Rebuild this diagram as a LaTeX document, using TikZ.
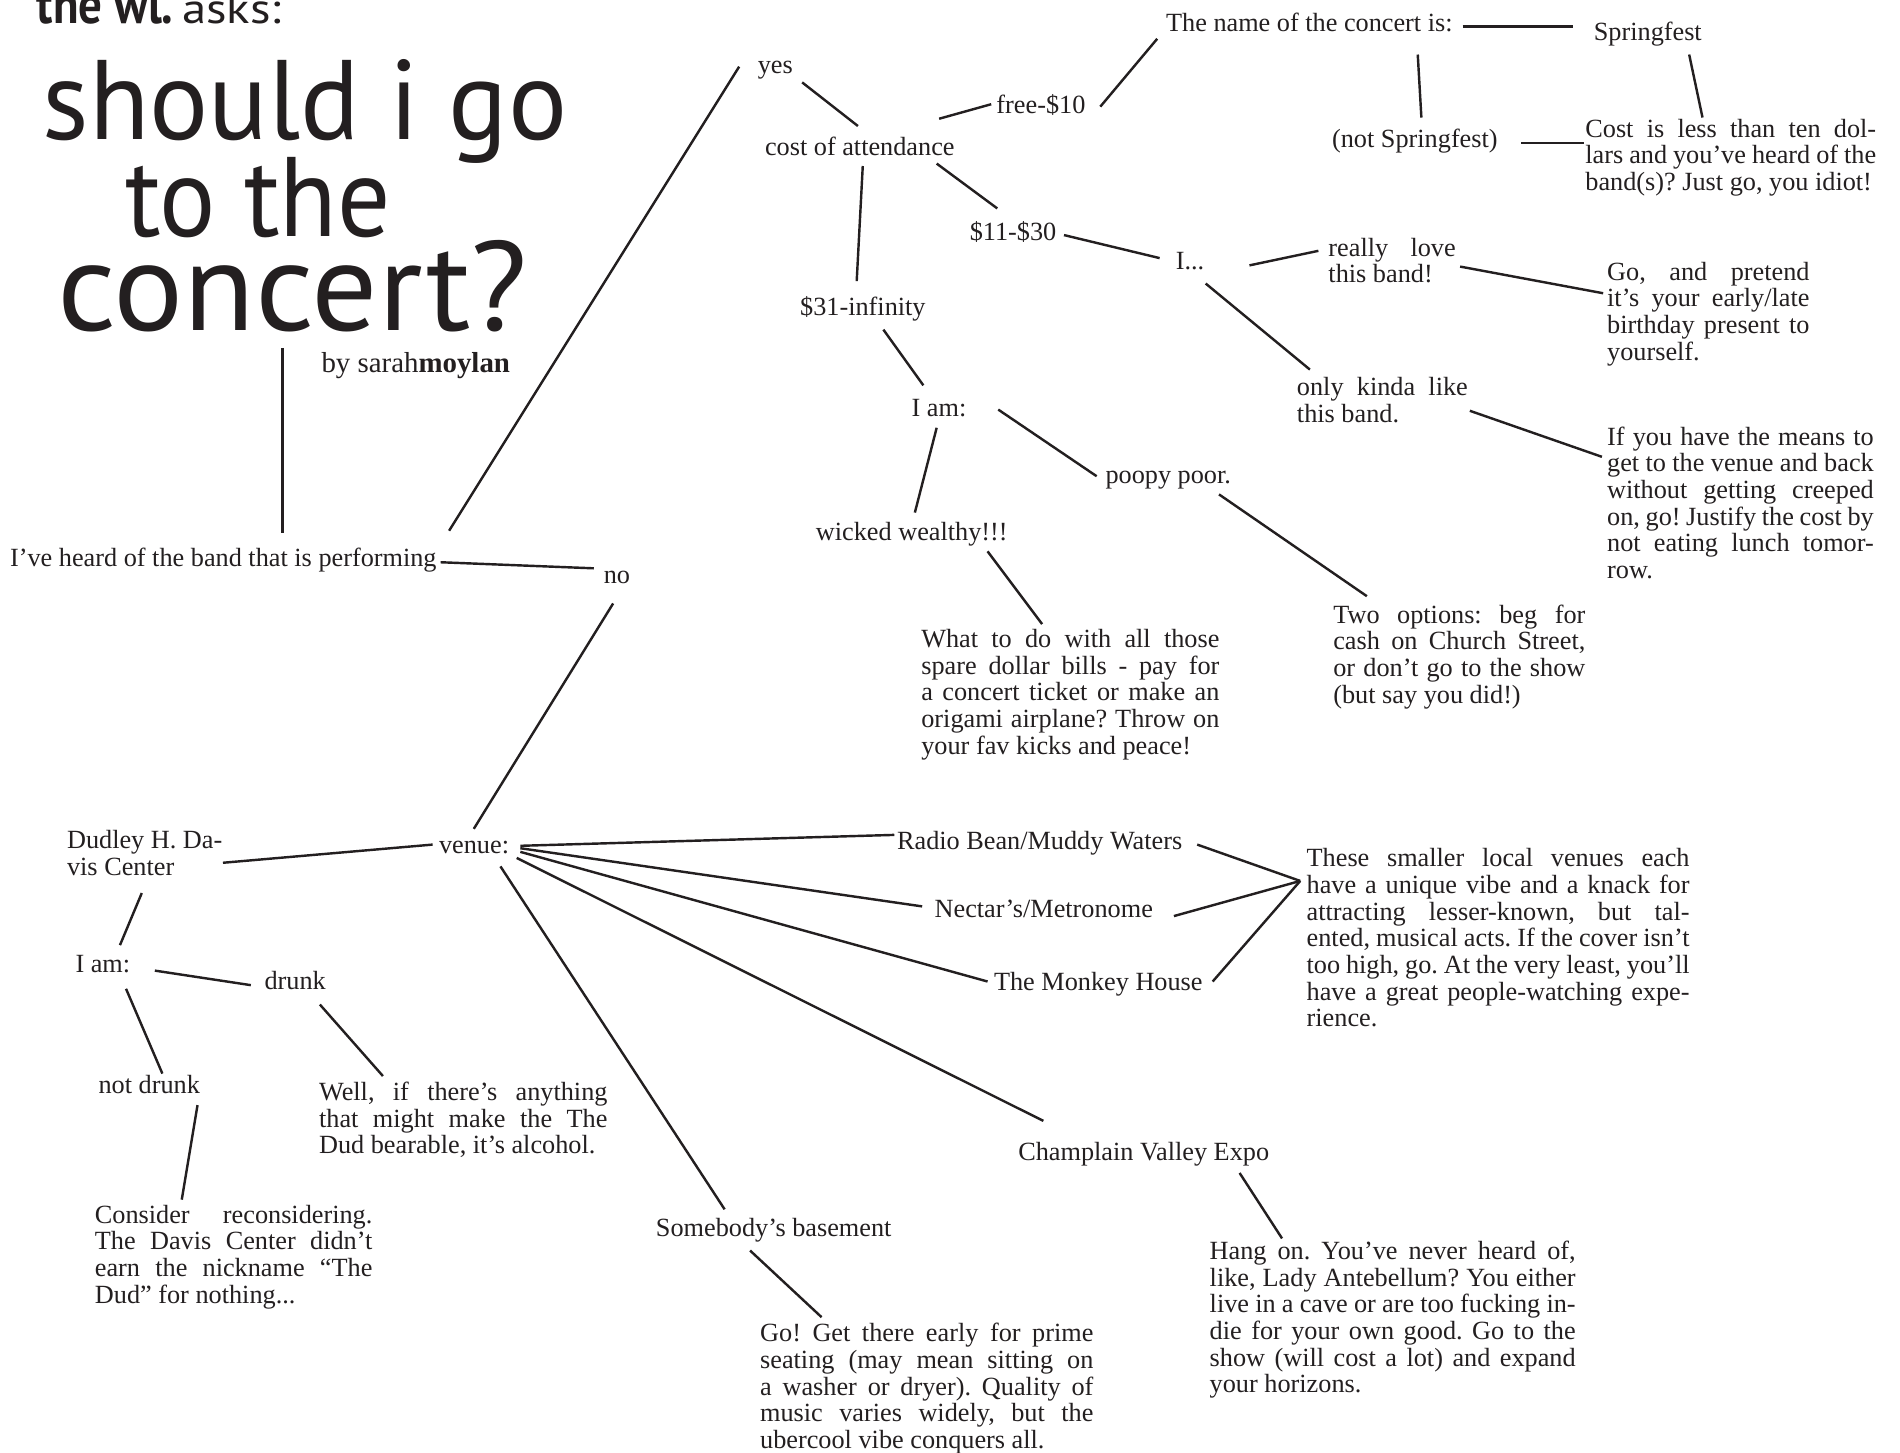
\documentclass[tikz,border=0pt]{standalone}
\usepackage{fontspec}
\setmainfont{Liberation Serif}
\newfontfamily\ttlfont{PT Sans}
\newdimen\myu \myu=0.6pt
\newbox\lblbox
\newcommand\jst[2]{\makebox[#1\myu][s]{#2}}
\newcommand\blk[1]{\begin{tabular}[t]{@{}l@{}}#1\end{tabular}}
\definecolor{ink}{RGB}{35,31,32}
\tikzset{
  lbl/.style={inner sep=0pt, anchor=mid west, text=ink, font=\fontsize{13}{13.2}\selectfont\frenchspacing,
    execute at begin node={\setbox\lblbox=\hbox\bgroup},
    execute at end node={\egroup\lower2.1pt\box\lblbox}},
  con/.style={draw=ink, line width=1.2pt},
  ttl/.style={inner sep=0pt, anchor=base west, text=ink, font=\ttlfont\fontsize{56}{56}\selectfont}
}
\begin{document}
\begin{tikzpicture}[x=0.6pt,y=-0.6pt]
\fill[white] (0,0) rectangle (1568,1199);
\useasboundingbox (0,0) rectangle (1568,1199);
% title
\node[inner sep=0pt, anchor=base west, text=ink, font=\ttlfont\bfseries\fontsize{27}{27}\selectfont] (wl) at (30,19) {\scalebox{0.86}[1]{the wl.}};
\node[inner sep=0pt, anchor=base west, text=ink, font=\ttlfont\fontsize{21}{21}\selectfont] (asks) at (150,19) {\scalebox{1.15}[1]{asks:}};
\node[ttl] (ttl1) at (35,115) {\scalebox{0.977}[1]{should i go}};
\node[ttl] (ttl2) at (103,195) {\scalebox{0.93}[1]{to the}};
\node[ttl, font=\ttlfont\fontsize{62.7}{62.7}\selectfont] (ttl3) at (47,273) {\scalebox{1.035}[1]{concert?}};
\node[inner sep=0pt, anchor=base west, text=ink, font=\fontsize{14.3}{15}\selectfont] (by) at (265,307) {by sarah\textbf{moylan}};
% nodes
\node[lbl] (heard) at (8,460) {I’ve heard of the band that is performing};
\node[lbl] (no) at (498,474) {no};
\node[lbl] (yes) at (625,53) {yes};
\node[lbl] (cost) at (631,121) {cost of attendance};
\node[lbl] (free) at (822,86) {free-\$10};
\node[lbl] (name) at (962,19) {The name of the concert is:};
\node[lbl] (spring) at (1315,26) {Springfest};
\node[lbl] (notspring) at (1099,114) {(not Springfest)};
\node[lbl] (costless) at (1308,106) {\blk{\jst{240}{Cost is less than ten dol-}\\ \jst{240}{lars and you’ve heard of the}\\ band(s)? Just go, you idiot!}};
\node[lbl] (mid) at (800,191) {\$11-\$30};
\node[lbl] (idots) at (970,215) {I...};
\node[lbl] (love) at (1096,204) {\blk{\jst{105}{really love}\\ this band!}};
\node[lbl] (pretend) at (1326,224) {\blk{\jst{167}{Go, and pretend}\\ \jst{167}{it’s your early/late}\\ \jst{167}{birthday present to}\\ yourself.}};
\node[lbl] (kinda) at (1070,319) {\blk{\jst{141}{only kinda like}\\ this band.}};
\node[lbl] (means) at (1326,360) {\blk{\jst{220}{If you have the means to}\\ \jst{220}{get to the venue and back}\\ \jst{220}{without getting creeped}\\ \jst{220}{on, go! Justify the cost by}\\ \jst{220}{not eating lunch tomor-}\\ row.}};
\node[lbl] (inf) at (660,253) {\$31-infinity};
\node[lbl] (iam1) at (752,336) {I am:};
\node[lbl] (wealthy) at (673,439) {wicked wealthy!!!};
\node[lbl] (poor) at (912,392) {poopy poor.};
\node[lbl] (spare) at (760,527) {\blk{\jst{246}{What to do with all those}\\ \jst{246}{spare dollar bills - pay for}\\ \jst{246}{a concert ticket or make an}\\ \jst{246}{origami airplane? Throw on}\\ your fav kicks and peace!}};
\node[lbl] (twoopt) at (1100,507) {\blk{\jst{208}{Two options: beg for}\\ \jst{208}{cash on Church Street,}\\ \jst{208}{or don’t go to the show}\\ (but say you did!)}};
\node[lbl] (venue) at (362,697) {venue:};
\node[lbl] (dudley) at (55,693) {\blk{Dudley H. Da-\\ vis Center}};
\node[lbl] (iam2) at (62,795) {I am:};
\node[lbl] (drunk) at (218,809) {drunk};
\node[lbl] (notdrunk) at (81,895) {not drunk};
\node[lbl] (well) at (263,901) {\blk{\jst{238}{Well, if there’s anything}\\ \jst{238}{that might make the The}\\ Dud bearable, it’s alcohol.}};
\node[lbl] (consider) at (78,1002) {\blk{\jst{229}{Consider reconsidering.}\\ \jst{229}{The Davis Center didn’t}\\ \jst{229}{earn the nickname “The}\\ Dud” for nothing...}};
\node[lbl] (radio) at (740,694) {Radio Bean/Muddy Waters};
\node[lbl] (nectar) at (771,750) {Nectar’s/Metronome};
\node[lbl] (monkey) at (820,810) {The Monkey House};
\node[lbl] (smaller) at (1078,708) {\blk{\jst{316}{These smaller local venues each}\\ \jst{316}{have a unique vibe and a knack for}\\ \jst{316}{attracting lesser-known, but tal-}\\ \jst{316}{ented, musical acts. If the cover isn’t}\\ \jst{316}{too high, go. At the very least, you’ll}\\ \jst{316}{have a great people-watching expe-}\\ rience.}};
\node[lbl] (champ) at (840,950) {Champlain Valley Expo};
\node[lbl] (basement) at (541,1013) {Somebody’s basement};
\node[lbl] (hang) at (998,1032) {\blk{\jst{302}{Hang on. You’ve never heard of,}\\ \jst{302}{like, Lady Antebellum? You either}\\ \jst{302}{live in a cave or are too fucking in-}\\ \jst{302}{die for your own good. Go to the}\\ \jst{302}{show (will cost a lot) and expand}\\ your horizons.}};
\node[lbl] (goget) at (627,1100) {\blk{\jst{275}{Go! Get there early for prime}\\ \jst{275}{seating (may mean sitting on}\\ \jst{275}{a washer or dryer). Quality of}\\ \jst{275}{music varies widely, but the}\\ ubercool vibe conquers all.}};
% connectors
\draw[con] ([shift={(186,14)}]ttl3.base west) -- ([shift={(225,-20)}]heard.mid west);
\draw[con] ([shift={(10,-22)}]heard.mid east) -- ([shift={(-15,2)}]yes.mid west);
\draw[con] ([shift={(3,4)}]heard.mid east) -- ([shift={(-8,-5)}]no.mid west);
\draw[con] ([shift={(37,15)}]yes.mid west) -- ([shift={(77,-17)}]cost.mid west);
\draw[con] ([shift={(144,-23)}]cost.mid west) -- ([shift={(-4,0)}]free.mid west);
\draw[con] ([shift={(12,2)}]free.mid east) -- ([shift={(-7,13)}]name.mid west);
\draw[con] ([shift={(8,3)}]name.mid east) -- ([shift={(-17,-4)}]spring.mid west);
\draw[con] ([shift={(208,26)}]name.mid west) -- ([shift={(74,-17)}]notspring.mid west);
\draw[con] ([shift={(19,4)}]notspring.mid east) -- ([shift={(-1,12)}]costless.mid west);
\draw[con] ([shift={(79,19)}]spring.mid west) -- ([shift={(97,-9)}]costless.mid west);
\draw[con] ([shift={(142,14)}]cost.mid west) -- ([shift={(23,-19)}]mid.mid west);
\draw[con] ([shift={(6,3)}]mid.mid east) -- ([shift={(-13,-2)}]idots.mid west);
\draw[con] ([shift={(37,4)}]idots.mid east) -- ([shift={(-8,3)}]love.mid west);
\draw[con] ([shift={(109,16)}]love.mid west) -- ([shift={(-3,18)}]pretend.mid west);
\draw[con] ([shift={(25,19)}]idots.mid west) -- ([shift={(11,-14)}]kinda.mid west);
\draw[con] ([shift={(143,20)}]kinda.mid west) -- ([shift={(-4,17)}]means.mid west);
\draw[con] ([shift={(81,16)}]cost.mid west) -- ([shift={(47,-21)}]inf.mid west);
\draw[con] ([shift={(69,19)}]inf.mid west) -- ([shift={(10,-18)}]iam1.mid west);
\draw[con] ([shift={(21,17)}]iam1.mid west) -- ([shift={(82,-16)}]wealthy.mid west);
\draw[con] ([shift={(26,2)}]iam1.mid east) -- ([shift={(-7,1)}]poor.mid west);
\draw[con] ([shift={(142,16)}]wealthy.mid west) -- ([shift={(100,-12)}]spare.mid west);
\draw[con] ([shift={(94,16)}]poor.mid west) -- ([shift={(28,-15)}]twoopt.mid west);
\draw[con] ([shift={(8,24)}]no.mid west) -- ([shift={(29,-13)}]venue.mid west);
\draw[con] ([shift={(-5,0)}]venue.mid west) -- ([shift={(129,19)}]dudley.mid west);
\draw[con] ([shift={(62,44)}]dudley.mid west) -- ([shift={(37,-15)}]iam2.mid west);
\draw[con] ([shift={(20,6)}]iam2.mid east) -- ([shift={(-11,4)}]drunk.mid west);
\draw[con] ([shift={(42,21)}]iam2.mid west) -- ([shift={(53,-9)}]notdrunk.mid west);
\draw[con] ([shift={(46,20)}]drunk.mid west) -- ([shift={(53,-13)}]well.mid west);
\draw[con] ([shift={(82,17)}]notdrunk.mid west) -- ([shift={(72,-12)}]consider.mid west);
\draw[con] ([shift={(9,1)}]venue.mid east) -- ([shift={(-2,-5)}]radio.mid west);
\draw[con] ([shift={(9,3)}]venue.mid east) -- ([shift={(-10,-2)}]nectar.mid west);
\draw[con] ([shift={(9,6)}]venue.mid east) -- ([shift={(-5,0)}]monkey.mid west);
\draw[con] ([shift={(6,11)}]venue.mid east) -- ([shift={(21,-25)}]champ.mid west);
\draw[con] ([shift={(51,18)}]venue.mid west) -- ([shift={(57,-15)}]basement.mid west);
\draw[con] ([shift={(12,3)}]radio.mid east) -- ([shift={(-5,19)}]smaller.mid west);
\draw[con] ([shift={(17,6)}]nectar.mid east) -- ([shift={(-5,19)}]smaller.mid west);
\draw[con] ([shift={(8,0)}]monkey.mid east) -- ([shift={(-5,19)}]smaller.mid west);
\draw[con] ([shift={(183,18)}]champ.mid west) -- ([shift={(60,-10)}]hang.mid west);
\draw[con] ([shift={(78,19)}]basement.mid west) -- ([shift={(51,-13)}]goget.mid west);
\end{tikzpicture}
\end{document}
